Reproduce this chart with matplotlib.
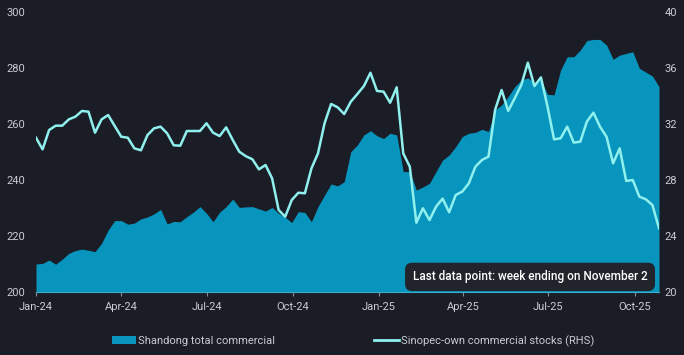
import matplotlib
matplotlib.use("Agg")
import matplotlib.pyplot as plt
import matplotlib.dates as mdates
from matplotlib.patches import Patch
from matplotlib.lines import Line2D
import numpy as np
import pandas as pd

plt.rcParams["font.family"] = ["Roboto", "DejaVu Sans"]

# Weekly observations (week start dates), Jan-2024 to late Oct-2025
dates = pd.date_range("2024-01-01", periods=96, freq="7D")

# Shandong total commercial stocks (LHS)
shandong = [
    210.0, 210.2, 211.4, 209.9, 211.7, 213.8, 214.8, 215.3, 214.9, 214.4,
    217.4, 222.1, 225.5, 225.5, 224.2, 224.6, 226.1, 226.8, 227.9, 229.5,
    224.3, 225.2, 225.1, 226.9, 228.5, 230.5, 228.1, 225.1, 228.5, 230.5,
    233.2, 230.2, 230.4, 230.5, 229.7, 228.9, 230.2, 228.1, 226.7, 224.8,
    228.7, 228.4, 225.1, 230.5, 234.6, 238.6, 237.9, 239.4, 250.1, 252.5,
    256.1, 257.6, 255.8, 254.8, 256.7, 256.1, 243.0, 243.0, 236.4, 237.5,
    238.8, 243.0, 247.1, 248.9, 251.9, 255.5, 256.7, 257.0, 258.1, 257.3,
    265.0, 266.8, 269.8, 273.3, 275.7, 276.5, 274.8, 275.7, 270.6, 270.4,
    279.3, 284.0, 284.0, 286.4, 289.8, 290.2, 290.2, 288.2, 283.1, 284.6,
    285.2, 285.8, 279.9, 278.5, 277.1, 273.3,
]

# Sinopec-own commercial stocks (RHS)
sinopec = [
    31.02, 30.19, 31.57, 31.88, 31.88, 32.33, 32.52, 32.93, 32.88, 31.38,
    32.33, 32.64, 31.86, 31.09, 31.02, 30.26, 30.12, 31.21, 31.69, 31.81,
    31.33, 30.48, 30.45, 31.50, 31.50, 31.50, 32.05, 31.38, 31.14, 31.76,
    30.86, 30.02, 29.70, 29.48, 28.76, 29.07, 28.12, 25.86, 25.38, 26.57,
    27.09, 27.05, 28.83, 29.90, 32.05, 33.43, 33.19, 32.71, 33.59, 34.14,
    34.71, 35.66, 34.36, 34.31, 33.52, 34.62, 29.90, 28.95, 24.95, 25.98,
    25.14, 26.09, 26.67, 25.70, 26.93, 27.17, 27.76, 28.95, 29.43, 29.67,
    33.00, 34.43, 32.93, 33.84, 34.79, 36.38, 34.71, 35.33, 33.24, 30.90,
    30.98, 31.81, 30.67, 30.74, 32.17, 32.81, 31.81, 31.09, 29.19, 30.26,
    27.93, 28.00, 26.81, 26.62, 26.21, 24.55,
]

left_ticks = [200, 220, 240, 260, 280, 300]
right_ticks = [20, 24, 28, 32, 36, 40]
month_ticks = pd.date_range("2024-01-01", "2025-10-01", freq="3MS")

bg = "#1b1d26"
fill_col = "#0895bd"
line_col = "#8ff0ee"
txt_col = "#c9ccd2"

fig = plt.figure(figsize=(6.84, 3.55), dpi=100, facecolor=bg)
ax = fig.add_axes([36 / 684, 1 - 292 / 355, 623 / 684, 280 / 355])
ax.set_facecolor(bg)

ax.fill_between(dates, 200, shandong, color=fill_col, linewidth=0)
ax.set_ylim(200, 300)
ax.set_yticks(left_ticks)
ax.set_xlim(dates[0], dates[-1])

ax2 = ax.twinx()
ax2.plot(dates, sinopec, color=line_col, linewidth=1.8)
ax2.set_ylim(20, 40)
ax2.set_yticks(right_ticks)

ax.set_xticks(month_ticks)
ax.xaxis.set_major_formatter(mdates.DateFormatter("%b-%y"))

for a in (ax, ax2):
    for s in a.spines.values():
        s.set_visible(False)
    a.tick_params(axis="y", length=0, labelsize=8, labelcolor=txt_col)
ax.tick_params(axis="x", length=3, color="#8a8d95", labelsize=8,
               labelcolor=txt_col, pad=4)
ax.spines["bottom"].set_visible(True)
ax.spines["bottom"].set_color("#3fa9c9")
ax.spines["bottom"].set_linewidth(0.8)
ax.tick_params(axis="y", pad=8)
ax2.tick_params(axis="y", pad=4)

# annotation box
ax.text(0.793, 0.054, "Last data point: week ending on November 2",
        transform=ax.transAxes, ha="center", va="center", fontsize=8.5,
        color="white", fontweight="medium",
        bbox=dict(boxstyle="round,pad=0.65,rounding_size=0.6",
                  facecolor="#22242c", edgecolor="none"))

handles = [
    Patch(facecolor=fill_col, edgecolor="none"),
    Line2D([0], [0], color=line_col, linewidth=2),
]
labels = ["Shandong total commercial", "Sinopec-own commercial stocks (RHS)"]
leg = fig.legend(handles, labels, loc="center", bbox_to_anchor=(0.516, 0.04),
                 ncol=2, frameon=False, fontsize=8, labelcolor=txt_col,
                 handlelength=2.2, handleheight=0.8, handletextpad=0.2,
                 columnspacing=8.9)

fig.savefig("out.png", dpi=100, facecolor=bg)
